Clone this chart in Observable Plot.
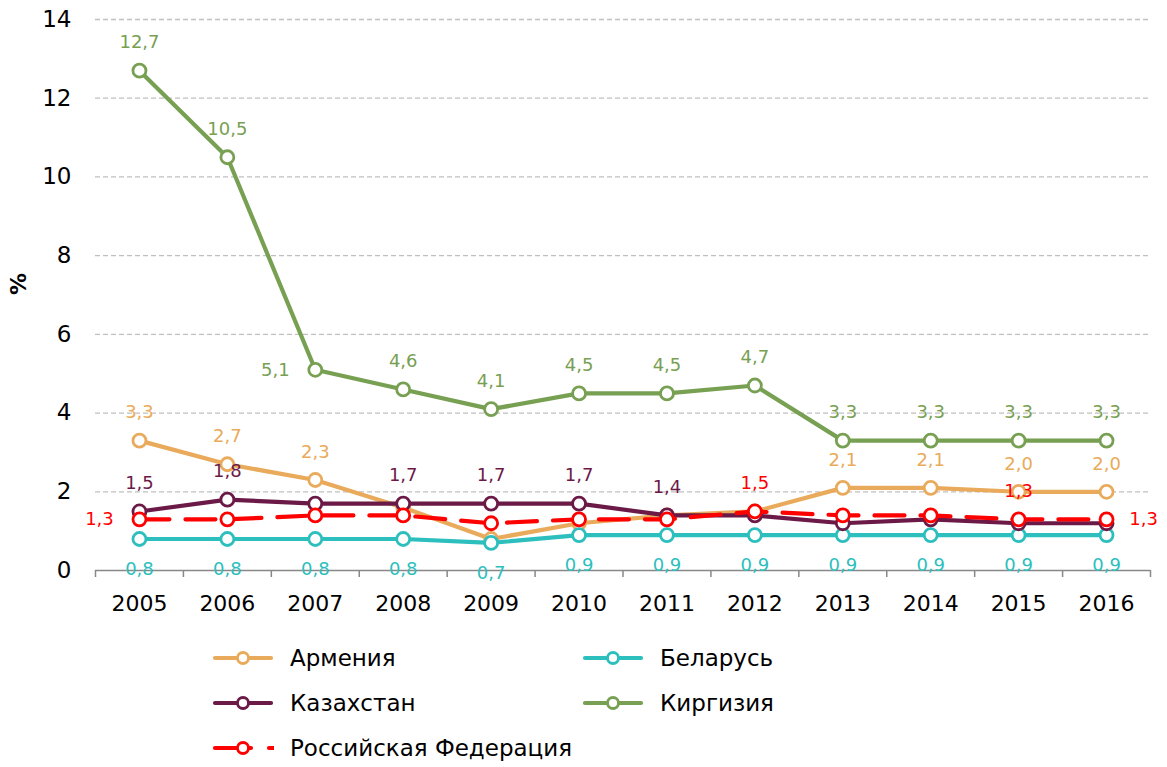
<!DOCTYPE html>
<html>
<head>
<meta charset="utf-8">
<script src="https://cdn.jsdelivr.net/npm/d3@7"></script>
<script src="https://cdn.jsdelivr.net/npm/@observablehq/plot@0.6"></script>
<style>
  body { margin: 0; background: #fff; font-family: "DejaVu Sans", sans-serif; }
  #wrap { position: relative; width: 1167px; height: 767px; }
  #legend { position: absolute; left: 212px; top: 636px; }
  .item { position: absolute; display: flex; align-items: center; height: 44px; font-size: 23px; color: #000; white-space: nowrap; }
  .item svg { margin-right: 16px; }
</style>
</head>
<body>
<div id="wrap"><div id="chart"></div><div id="legend"></div></div>
<script>
const years = [2005, 2006, 2007, 2008, 2009, 2010, 2011, 2012, 2013, 2014, 2015, 2016];
const seriesNames = ["Армения", "Беларусь", "Казахстан", "Киргизия", "Российская Федерация"];
const seriesColors = ["#E9AB5B", "#2CBFBE", "#6B1A47", "#77A052", "#FF0000"];
const armenia    = [3.3, 2.7, 2.3, 1.6, 0.8, 1.2, 1.4, 1.5, 2.1, 2.1, 2.0, 2.0];
const belarus    = [0.8, 0.8, 0.8, 0.8, 0.7, 0.9, 0.9, 0.9, 0.9, 0.9, 0.9, 0.9];
const kazakhstan = [1.5, 1.8, 1.7, 1.7, 1.7, 1.7, 1.4, 1.4, 1.2, 1.3, 1.2, 1.2];
const kyrgyzstan = [12.7, 10.5, 5.1, 4.6, 4.1, 4.5, 4.5, 4.7, 3.3, 3.3, 3.3, 3.3];
const russia     = [1.3, 1.3, 1.4, 1.4, 1.2, 1.3, 1.3, 1.5, 1.4, 1.4, 1.3, 1.3];
// label placement per point: t = above, b = below, l = left, r = right, "" = none
const armeniaLabels    = ["t","t","t","","","","","","t","t","t","t"];
const belarusLabels    = ["b","b","b","b","b","b","b","b","b","b","b","b"];
const kazakhstanLabels = ["t","t","","t","t","t","t","","","","",""];
const kyrgyzstanLabels = ["t","t","l","t","t","t","t","t","t","t","t","t"];
const russiaLabels     = ["l","","","","","","","t","","","t","r"];
const yTicks = [0, 2, 4, 6, 8, 10, 12, 14];

const seriesValues = [armenia, belarus, kazakhstan, kyrgyzstan, russia];
const seriesLabels = [armeniaLabels, belarusLabels, kazakhstanLabels, kyrgyzstanLabels, russiaLabels];
const dashed = [false, false, false, false, true];

const fmt = v => d3.format(".1f")(v).replace(".", ",");
const boundaries = years.map(y => y - 0.5).concat([years[years.length - 1] + 0.5]);
const offsets = { t: {dx: 0, dy: -28}, b: {dx: 0, dy: 30}, l: {dx: -40, dy: 0}, r: {dx: 37, dy: 0} };

const marks = [
  Plot.ruleY(yTicks.filter(d => d > 0), {stroke: "#c0c0c0", strokeWidth: 1.3, strokeDasharray: "5,3"}),
  Plot.axisY({ticks: yTicks, tickSize: 0, tickPadding: 24, label: null, fontSize: 23}),
  Plot.axisX({ticks: boundaries, tickSize: 7, tickFormat: () => "", label: null, stroke: "#888", strokeWidth: 1.5}),
  Plot.axisX({ticks: years, tickSize: 0, tickPadding: 25, tickFormat: d => String(d), label: null, fontSize: 22}),
  Plot.ruleY([0], {stroke: "#888", strokeWidth: 1.6}),
  Plot.text(["%"], {frameAnchor: "left", dx: -77, rotate: -90, fontSize: 22, fontWeight: "bold", fill: "#000"})
];

seriesNames.forEach((name, i) => {
  const data = years.map((y, j) => ({year: y, value: seriesValues[i][j], pos: seriesLabels[i][j]}));
  const color = seriesColors[i];
  marks.push(Plot.line(data, {x: "year", y: "value", stroke: color, strokeWidth: 4.2,
    strokeDasharray: dashed[i] ? "30,16" : null}));
  marks.push(Plot.dot(data, {x: "year", y: "value", r: 6.5, fill: "#fff", stroke: color, strokeWidth: 2.8}));
});
seriesNames.forEach((name, i) => {
  const data = years.map((y, j) => ({year: y, value: seriesValues[i][j], pos: seriesLabels[i][j]}));
  for (const p of ["t", "b", "l", "r"]) {
    marks.push(Plot.text(data.filter(d => d.pos === p), {x: "year", y: "value", text: d => fmt(d.value),
      fill: seriesColors[i], fontSize: 18, dx: offsets[p].dx, dy: offsets[p].dy}));
  }
});

const chart = Plot.plot({
  width: 1167, height: 630,
  marginLeft: 95, marginRight: 17, marginTop: 19, marginBottom: 60,
  x: {type: "linear", domain: [years[0] - 0.5, years[years.length - 1] + 0.5]},
  y: {domain: [0, 14]},
  style: {fontFamily: "DejaVu Sans, sans-serif", fontSize: "21px", color: "#000", background: "#fff"},
  marks
});
document.getElementById("chart").appendChild(chart);

// legend
const legend = document.getElementById("legend");
const legendPos = [[0, 0], [370, 0], [0, 45], [370, 45], [0, 90]];
seriesNames.forEach((name, i) => {
  const div = document.createElement("div");
  div.className = "item";
  div.style.left = legendPos[i][0] + "px";
  div.style.top = legendPos[i][1] + "px";
  const c = seriesColors[i];
  const line = dashed[i]
    ? `<line x1="3" y1="11" x2="39" y2="11" stroke="${c}" stroke-width="4.2" stroke-linecap="round"/><line x1="57" y1="11" x2="61" y2="11" stroke="${c}" stroke-width="4.2" stroke-linecap="round"/>`
    : `<line x1="3" y1="11" x2="59" y2="11" stroke="${c}" stroke-width="4.2" stroke-linecap="round"/>`;
  div.innerHTML = `<svg width="62" height="22">${line}<circle cx="31" cy="11" r="5.5" fill="#fff" stroke="${c}" stroke-width="2.8"/></svg><span>${name}</span>`;
  legend.appendChild(div);
});
</script>
</body>
</html>
